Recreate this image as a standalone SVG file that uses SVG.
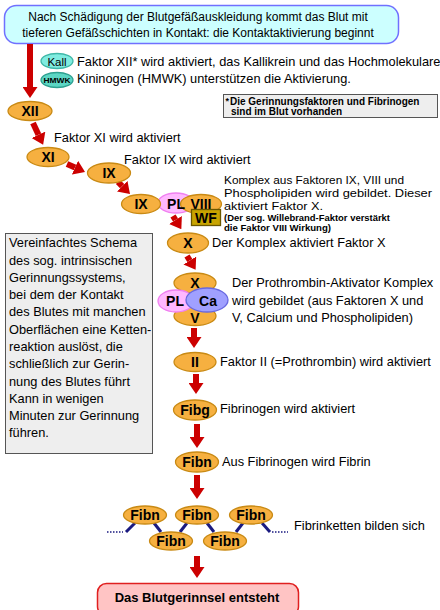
<svg xmlns="http://www.w3.org/2000/svg" width="440" height="610" viewBox="0 0 440 610">
<defs>
<style>
text{font-family:"Liberation Sans",Arial,sans-serif;fill:#000}
.t{font-size:12.8px}
.lbl{font-size:14px;font-weight:bold;text-anchor:middle}
.org{fill:#f6b040;stroke:#c98a14;stroke-width:1.3}
.pl{fill:#ffb8ff;stroke:#f080f0;stroke-width:1.3}
.ca{fill:#a0a0ff;stroke:#6868e0;stroke-width:1.3}
.arr{stroke:#cc0000;stroke-width:6;fill:none;marker-end:url(#ah)}
.lnk{stroke:#1a1a80;stroke-width:3;fill:none}
.dots{stroke:#1a1a80;stroke-width:1.5;stroke-dasharray:1.5 1.5;fill:none}
.gray{fill:#eeeeee;stroke:#555555;stroke-width:1}
</style>
<marker id="ah" markerUnits="userSpaceOnUse" markerWidth="11" markerHeight="15" viewBox="0 0 11 15" refX="0" refY="7.5" orient="auto">
<path d="M0,0 L11,7.5 L0,15 Z" fill="#cc0000"/>
</marker>
</defs>

<g id="start">
<rect x="4.5" y="5.5" width="394" height="38" rx="12" fill="#ccffff" stroke="#7070ff" stroke-width="1.5"/>
<text x="198" y="21" font-size="12" text-anchor="middle">Nach Schädigung der Blutgefäßauskleidung kommt das Blut mit</text>
<text x="198" y="37" font-size="12" text-anchor="middle">tieferen Gefäßschichten in Kontakt: die Kontaktaktivierung beginnt</text>
</g>

<g id="connectors">
<line class="arr" x1="30" y1="44" x2="30" y2="87"/>
<line class="arr" x1="33" y1="123" x2="38.5" y2="134.8"/>
<line class="arr" x1="67" y1="164" x2="75" y2="167.6"/>
<line class="arr" x1="118" y1="182" x2="122.2" y2="186.2"/>
<line class="arr" x1="173" y1="216" x2="175.5" y2="220"/>
<line class="arr" x1="187" y1="256" x2="189.8" y2="260.5"/>
<line class="arr" x1="194" y1="328" x2="194" y2="337"/>
<line class="arr" x1="196" y1="374" x2="196" y2="383"/>
<line class="arr" x1="197" y1="424" x2="197" y2="437"/>
<line class="arr" x1="197" y1="475" x2="197" y2="488"/>
<line class="arr" x1="197" y1="556" x2="197" y2="567"/>
<line class="lnk" x1="135" y1="523" x2="126" y2="532"/>
<line class="lnk" x1="154" y1="523" x2="161" y2="532"/>
<line class="lnk" x1="187" y1="523" x2="180" y2="532"/>
<line class="lnk" x1="207" y1="523" x2="214" y2="532"/>
<line class="lnk" x1="243" y1="523" x2="236" y2="532"/>
<line class="lnk" x1="262" y1="523" x2="270" y2="532"/>
<line class="dots" x1="107" y1="532" x2="123" y2="532"/>
<line class="dots" x1="272" y1="532" x2="288" y2="532"/>
</g>

<g id="kall">
<ellipse cx="57" cy="61" rx="16" ry="7.5" fill="#80ece0" stroke="#40b8a8" stroke-width="1.3"/>
<text x="57" y="65.5" font-size="11.5" text-anchor="middle">Kall</text>
</g>
<g id="hmwk">
<ellipse cx="57" cy="80" rx="16" ry="7.5" fill="#5cd6c4" stroke="#2fa090" stroke-width="1.3"/>
<text x="57" y="83" font-size="7.5" font-weight="bold" text-anchor="middle" textLength="27" lengthAdjust="spacingAndGlyphs">HMWK</text>
</g>
<g id="kall-text">
<text class="t" x="77" y="66">Faktor XII* wird aktiviert, das Kallikrein und das Hochmolekulare</text>
<text class="t" x="77" y="83">Kininogen (HMWK) unterstützen die Aktivierung.</text>
</g>

<g id="note">
<rect class="gray" x="223.5" y="94.5" width="214" height="23"/>
<text x="225.5" y="104" font-size="9" font-weight="bold" fill="#222">*</text>
<text x="230" y="105" font-size="10" font-weight="bold" fill="#222">Die Gerinnungsfaktoren und Fibrinogen</text>
<text x="231" y="115" font-size="10" font-weight="bold" fill="#222">sind im Blut vorhanden</text>
</g>

<g id="xii">
<ellipse class="org" cx="30" cy="111" rx="22" ry="9.5"/>
<text class="lbl" x="30" y="116">XII</text>
</g>

<g id="xi">
<ellipse class="org" cx="48" cy="157" rx="21" ry="9.5"/>
<text class="lbl" x="48" y="162">XI</text>
<text class="t" x="54" y="142">Faktor XI wird aktiviert</text>
</g>

<g id="ix">
<ellipse class="org" cx="109" cy="173" rx="21.5" ry="10"/>
<text class="lbl" x="109" y="178">IX</text>
<text class="t" x="124" y="164">Faktor IX wird aktiviert</text>
</g>

<g id="complex1">
<ellipse class="pl" cx="176" cy="203" rx="18" ry="10"/>
<ellipse class="org" cx="141" cy="204" rx="19.5" ry="9.5"/>
<text class="lbl" x="141" y="209">IX</text>
<ellipse class="org" cx="201" cy="204" rx="20.5" ry="9.5"/>
<text class="lbl" x="176" y="209">PL</text>
<text class="lbl" x="201" y="209">VIII</text>
<rect x="191.5" y="209.5" width="29" height="16" fill="#c8a400" stroke="#6b5800" stroke-width="1.3"/>
<text class="lbl" x="206" y="223">WF</text>
<text x="224" y="184" font-size="11.5" textLength="180" lengthAdjust="spacingAndGlyphs">Komplex aus Faktoren IX, VIII und</text>
<text x="224" y="197" font-size="11.5" textLength="208" lengthAdjust="spacingAndGlyphs">Phospholipiden wird gebildet. Dieser</text>
<text x="224" y="210" font-size="11.5" textLength="99" lengthAdjust="spacingAndGlyphs">aktiviert Faktor X.</text>
<text x="224" y="221" font-size="9" font-weight="bold" textLength="166" lengthAdjust="spacingAndGlyphs">(Der sog. Willebrand-Faktor verstärkt</text>
<text x="224" y="230.5" font-size="9" font-weight="bold" textLength="107" lengthAdjust="spacingAndGlyphs">die Faktor VIII Wirkung)</text>
</g>

<g id="x">
<ellipse class="org" cx="188" cy="243" rx="20.5" ry="10"/>
<text class="lbl" x="188" y="248">X</text>
<text class="t" x="212" y="247">Der Komplex aktiviert Faktor X</text>
</g>

<g id="prothrombinase">
<ellipse class="org" cx="195" cy="283" rx="21" ry="10"/>
<ellipse class="org" cx="195" cy="316" rx="21" ry="9.5"/>
<text class="lbl" x="195" y="323">V</text>
<ellipse class="pl" cx="176" cy="301" rx="18" ry="11"/>
<ellipse class="ca" cx="207" cy="300" rx="21" ry="12"/>
<text class="lbl" x="195" y="288">X</text>
<text class="lbl" x="175" y="306">PL</text>
<text class="lbl" x="208" y="306">Ca</text>
<text class="t" x="232" y="287">Der Prothrombin-Aktivator Komplex</text>
<text class="t" x="232" y="305">wird gebildet (aus Faktoren X und</text>
<text class="t" x="232" y="322">V, Calcium und Phospholipiden)</text>
</g>

<g id="ii">
<ellipse class="org" cx="195" cy="362" rx="21" ry="9.5"/>
<text class="lbl" x="195" y="367">II</text>
<text class="t" x="220" y="366">Faktor II (=Prothrombin) wird aktiviert</text>
</g>

<g id="fibg">
<ellipse class="org" cx="195" cy="410" rx="21.5" ry="10"/>
<text class="lbl" x="195" y="415">Fibg</text>
<text class="t" x="220" y="413">Fibrinogen wird aktiviert</text>
</g>

<g id="fibn">
<ellipse class="org" cx="197" cy="462" rx="21.5" ry="10"/>
<text class="lbl" x="197" y="467">Fibn</text>
<text class="t" x="222" y="466">Aus Fibrinogen wird Fibrin</text>
</g>

<g id="chain">
<ellipse class="org" cx="145" cy="515" rx="21.5" ry="9"/>
<text class="lbl" x="145" y="520">Fibn</text>
<ellipse class="org" cx="197" cy="515" rx="21.5" ry="9"/>
<text class="lbl" x="197" y="520">Fibn</text>
<ellipse class="org" cx="251" cy="515" rx="21.5" ry="9"/>
<text class="lbl" x="251" y="520">Fibn</text>
<ellipse class="org" cx="171" cy="541" rx="21.5" ry="9"/>
<text class="lbl" x="171" y="546">Fibn</text>
<ellipse class="org" cx="225" cy="541" rx="21.5" ry="9"/>
<text class="lbl" x="225" y="546">Fibn</text>
<text class="t" x="294" y="530">Fibrinketten bilden sich</text>
</g>

<g id="end">
<rect x="97.5" y="583.5" width="201" height="32" rx="9" fill="#ffc4c4" stroke="#e02020" stroke-width="1.5"/>
<text x="197" y="602" font-size="13" font-weight="bold" text-anchor="middle">Das Blutgerinnsel entsteht</text>
</g>

<g id="legend">
<rect class="gray" x="5.5" y="233.5" width="147" height="220"/>
<text class="t" x="9" y="247">Vereinfachtes Schema</text>
<text class="t" x="9" y="265">des sog. intrinsischen</text>
<text class="t" x="9" y="282">Gerinnungssystems,</text>
<text class="t" x="9" y="299">bei dem der Kontakt</text>
<text class="t" x="9" y="316">des Blutes mit manchen</text>
<text class="t" x="9" y="334">Oberflächen eine Ketten-</text>
<text class="t" x="9" y="351">reaktion auslöst, die</text>
<text class="t" x="9" y="368">schließlich zur Gerin-</text>
<text class="t" x="9" y="386">nung des Blutes führt</text>
<text class="t" x="9" y="403">Kann in wenigen</text>
<text class="t" x="9" y="420">Minuten zur Gerinnung</text>
<text class="t" x="9" y="437">führen.</text>
</g>
</svg>
